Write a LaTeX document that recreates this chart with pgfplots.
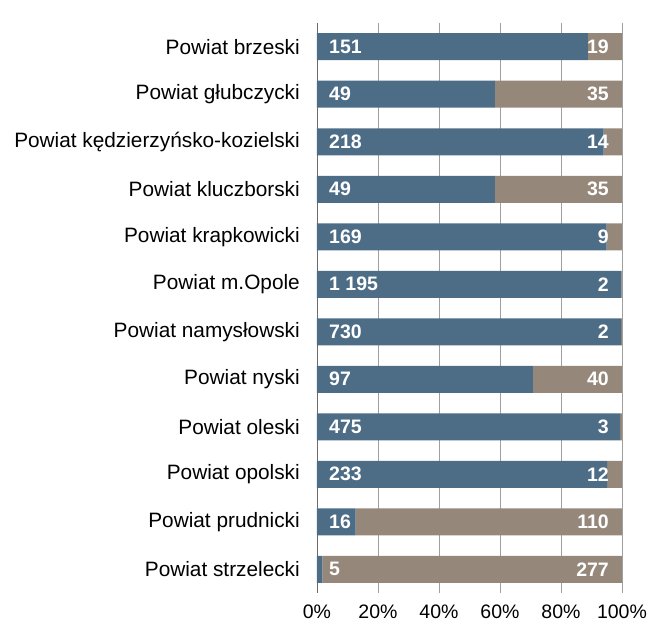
\documentclass[border=0pt]{standalone}
\usepackage{pgfplots}
\pgfplotsset{compat=1.18}
\usepackage{pgfplotstable}
\usepackage{fontspec}
\setmainfont{Liberation Sans}
\definecolor{barblue}{RGB}{77,109,135}
\definecolor{bartaupe}{RGB}{149,135,121}
\pgfplotstableread{
idx pa pb a b
0 88.824 11.176 151 19
1 58.333 41.667 49 35
2 93.966 6.034 218 14
3 58.333 41.667 49 35
4 94.944 5.056 169 9
5 99.833 0.167 {1 195} 2
6 99.727 0.273 730 2
7 70.803 29.197 97 40
8 99.372 0.628 475 3
9 95.102 4.898 233 12
10 12.698 87.302 16 110
11 1.773 98.227 5 277
}\data
\begin{document}
\begin{tikzpicture}
\useasboundingbox (-317pt,-49pt) rectangle (355pt,593pt);
\begin{axis}[
  at={(0,0)}, anchor=south west,
  scale only axis, width=305pt, height=570pt,
  xbar stacked, bar width=27pt,
  xmin=0, xmax=100, ymin=-0.5, ymax=11.5,
  y dir=reverse,
  xtick={0,20,40,60,80,100},
  xticklabels={0\%,20\%,40\%,60\%,80\%,100\%},
  ytick={0,...,11},
  yticklabels={Powiat brzeski,Powiat głubczycki,Powiat kędzierzyńsko-kozielski,Powiat kluczborski,Powiat krapkowicki,Powiat m.Opole,Powiat namysłowski,Powiat nyski,Powiat oleski,Powiat opolski,Powiat prudnicki,Powiat strzelecki},
  tick style={draw=none},
  xticklabel style={inner sep=0pt, yshift=-12pt, font=\fontsize{19.5}{23}\selectfont},
  yticklabel style={inner sep=0pt, xshift=-17pt, font=\fontsize{20.8}{24}\selectfont},
  xmajorgrids, grid style={draw=gray!75, line width=0.8pt},
  separate axis lines,
  axis x line*=bottom, axis y line*=left,
  x axis line style={draw=none},
  y axis line style={draw=gray!85!black, line width=0.8pt},
  clip=false,
]
\addplot[fill=barblue, draw=none] table[x=pa, y=idx] {\data};
\addplot[fill=bartaupe, draw=none] table[x=pb, y=idx] {\data};
\addplot[stack plots=false, sharp plot, draw=none, mark=none,
  nodes near coords, point meta=explicit symbolic,
  every node near coord/.append style={anchor=west, xshift=12pt, inner sep=0pt, text=white, font=\fontsize{19.5}{23}\selectfont\bfseries}]
  table[x expr=0, y=idx, meta=a] {\data};
\addplot[stack plots=false, sharp plot, draw=none, mark=none,
  nodes near coords, point meta=explicit symbolic,
  every node near coord/.append style={anchor=east, xshift=292pt, inner sep=0pt, text=white, font=\fontsize{19.5}{23}\selectfont\bfseries}]
  table[x expr=0, y=idx, meta=b] {\data};
\end{axis}
\end{tikzpicture}
\end{document}
